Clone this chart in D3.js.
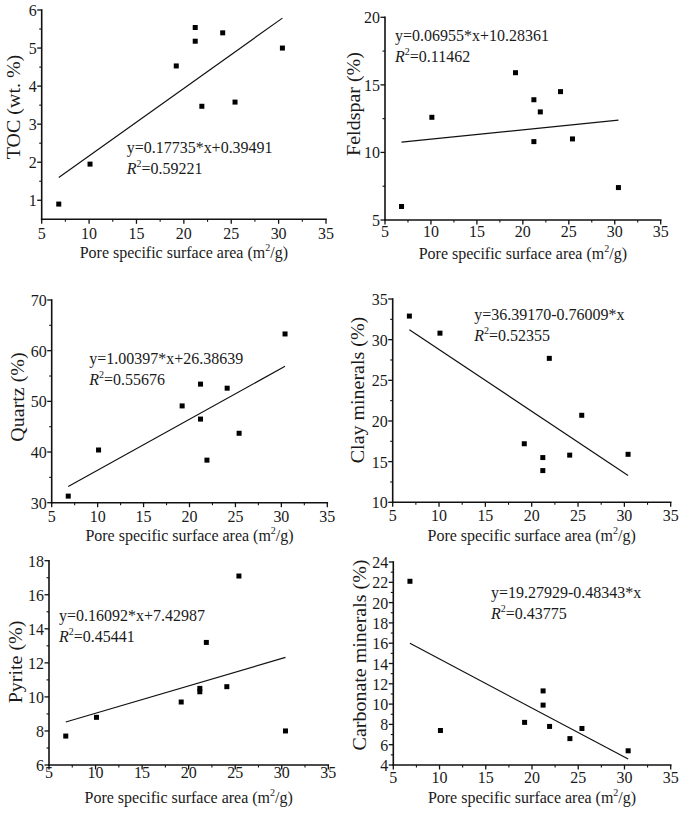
<!DOCTYPE html>
<html><head><meta charset="utf-8">
<script src="https://cdn.jsdelivr.net/npm/d3@7"></script>
<style>
body{margin:0;background:#fff}
svg{display:block}
text{font-family:"Liberation Serif","Times New Roman",serif;fill:#1a1a1a}
</style>
</head><body>
<svg id="chart" width="685" height="814"></svg>
<script>
// ---- data ----
const surfaceArea = [6.8, 10.1, 19.2, 21.2, 21.2, 21.9, 24.1, 25.4, 30.4];
const tocVals = [0.9, 1.95, 4.53, 5.54, 5.18, 3.47, 5.40, 3.58, 5.0];
const feldsparVals = [6.0, 12.6, 15.9, 13.9, 10.8, 13.0, 14.5, 11.0, 7.4];
const quartzVals = [31.3, 40.4, 49.1, 53.4, 46.5, 38.4, 52.6, 43.7, 63.3];
const clayVals = [32.9, 30.8, 17.2, 15.5, 13.9, 27.7, 15.8, 20.7, 15.9];
const pyriteVals = [7.7, 8.8, 9.7, 10.5, 10.3, 13.2, 10.6, 17.1, 8.0];
const carbonateVals = [22.1, 7.4, 8.2, 11.3, 9.9, 7.8, 6.6, 7.6, 5.4];

const slopes = [0.17735, 0.06955, 1.00397, -0.76009, 0.16092, -0.48343];
const intercepts = [0.39491, 10.28361, 26.38639, 36.39170, 7.42987, 19.27929];
const equations = ["y=0.17735*x+0.39491", "y=0.06955*x+10.28361", "y=1.00397*x+26.38639",
                   "y=36.39170-0.76009*x", "y=0.16092*x+7.42987", "y=19.27929-0.48343*x"];
const r2Values = ["0.59221", "0.11462", "0.55676", "0.52355", "0.45441", "0.43775"];
const yTitles = ["TOC (wt. %)", "Feldspar (%)", "Quartz (%)", "Clay minerals (%)", "Pyrite (%)", "Carbonate minerals (%)"];

const xTicks = [5, 10, 15, 20, 25, 30, 35];
const yTicksTOC = [1, 2, 3, 4, 5, 6];
const yTicksFeldspar = [5, 10, 15, 20];
const yTicksQuartz = [30, 40, 50, 60, 70];
const yTicksClay = [10, 15, 20, 25, 30, 35];
const yTicksPyrite = [6, 8, 10, 12, 14, 16, 18];
const yTicksCarbonate = [4, 6, 8, 10, 12, 14, 16, 18, 20, 22, 24];
const xDomain = [5, 35];

// ---- layout ----
const panels = [
  {vals: tocVals, ticks: yTicksTOC, yDomain: [0.5, 6], left: 41.7, right: 326, bottom: 219.3, top: 10,
   xlab: 19.3, xtitle: 39, ytx: 20, yty: 107, eqx: 126.7, eqy: 152.5},
  {vals: feldsparVals, ticks: yTicksFeldspar, yDomain: [5, 20], left: 385, right: 660.7, bottom: 220, top: 17.3,
   xlab: 16.5, xtitle: 39, ytx: 359.5, yty: 104, eqx: 395, eqy: 40.5},
  {vals: quartzVals, ticks: yTicksQuartz, yDomain: [30, 70], left: 51.7, right: 327.3, bottom: 502.7, top: 300,
   xlab: 19, xtitle: 38.6, ytx: 23.5, yty: 397, eqx: 89.3, eqy: 364},
  {vals: clayVals, ticks: yTicksClay, yDomain: [10, 35], left: 392.7, right: 670.7, bottom: 502.3, top: 299,
   xlab: 19, xtitle: 38.6, ytx: 364, yty: 390, eqx: 474.3, eqy: 319.5},
  {vals: pyriteVals, ticks: yTicksPyrite, yDomain: [6, 18], left: 49, right: 328.3, bottom: 765, top: 560.7,
   xlab: 12.5, xtitle: 38, ytx: 22, yty: 662, eqx: 59, eqy: 620.7},
  {vals: carbonateVals, ticks: yTicksCarbonate, yDomain: [4, 24], left: 393.3, right: 670.7, bottom: 765, top: 562,
   xlab: 18, xtitle: 37.7, ytx: 365.5, yty: 655, eqx: 491, eqy: 597.7}
];

const SX = 0.914;        // horizontal text compression seen in the figure
const FS = 17.5;         // text size
const svg = d3.select("#chart");

function txt(g, x, y, anchor, size, rot) {
  return g.append("text")
    .attr("transform", `translate(${x},${y}) scale(${SX},1)` + (rot ? " rotate(-90)" : ""))
    .attr("text-anchor", anchor)
    .style("font-size", size + "px");
}
function mids(arr) { const m = []; for (let i = 0; i < arr.length - 1; i++) m.push((arr[i] + arr[i + 1]) / 2); return m; }

panels.forEach((p, i) => {
  const x = d3.scaleLinear().domain(xDomain).range([p.left, p.right]);
  const y = d3.scaleLinear().domain(p.yDomain).range([p.bottom, p.top]);
  const g = svg.append("g");

  // axis lines
  g.append("line").attr("x1", p.left).attr("x2", p.right).attr("y1", p.bottom).attr("y2", p.bottom)
    .attr("stroke", "#111").attr("stroke-width", 1.6).attr("stroke-linecap", "square");
  g.append("line").attr("x1", p.left).attr("x2", p.left).attr("y1", p.bottom).attr("y2", p.top)
    .attr("stroke", "#111").attr("stroke-width", 1.6).attr("stroke-linecap", "square");

  // x ticks
  xTicks.forEach(t => {
    g.append("line").attr("x1", x(t)).attr("x2", x(t)).attr("y1", p.bottom).attr("y2", p.bottom + 4.5)
      .attr("stroke", "#111").attr("stroke-width", 1.3);
    txt(g, x(t), p.bottom + p.xlab, "middle", FS).text(t);
  });
  mids(xTicks).forEach(t => {
    g.append("line").attr("x1", x(t)).attr("x2", x(t)).attr("y1", p.bottom).attr("y2", p.bottom + 2.5)
      .attr("stroke", "#111").attr("stroke-width", 1.1);
  });
  // y ticks
  p.ticks.forEach(t => {
    g.append("line").attr("x1", p.left - 4.5).attr("x2", p.left).attr("y1", y(t)).attr("y2", y(t))
      .attr("stroke", "#111").attr("stroke-width", 1.3);
    txt(g, p.left - 5, y(t) + 6, "end", FS).text(t);
  });
  mids(p.ticks).forEach(t => {
    g.append("line").attr("x1", p.left - 2.5).attr("x2", p.left).attr("y1", y(t)).attr("y2", y(t))
      .attr("stroke", "#111").attr("stroke-width", 1.1);
  });

  // axis titles
  const xt = txt(g, (p.left + p.right) / 2, p.bottom + p.xtitle, "middle", FS);
  xt.append("tspan").text("Pore specific surface area (m");
  xt.append("tspan").text("2").attr("dy", -7).style("font-size", "11px");
  xt.append("tspan").text("/g)").attr("dy", 7);
  txt(g, p.ytx, p.yty, "middle", 20, true).text(yTitles[i]);

  // regression line
  const xe = d3.extent(surfaceArea);
  const line = d3.line().x(d => x(d)).y(d => y(slopes[i] * d + intercepts[i]));
  g.append("path").attr("d", line(xe)).attr("fill", "none").attr("stroke", "#111").attr("stroke-width", 1.2);

  // points
  g.selectAll("rect.pt").data(surfaceArea.map((v, k) => [v, p.vals[k]])).enter()
    .append("rect").attr("class", "pt")
    .attr("x", d => x(d[0]) - 2.5).attr("y", d => y(d[1]) - 2.5)
    .attr("width", 5).attr("height", 5).attr("fill", "#000");

  // equation text
  txt(g, p.eqx, p.eqy, "start", FS).text(equations[i]);
  const r = txt(g, p.eqx, p.eqy + 21, "start", FS);
  r.append("tspan").text("R").style("font-style", "italic");
  r.append("tspan").text("2").attr("dy", -7).style("font-size", "11px");
  r.append("tspan").text("=" + r2Values[i]).attr("dy", 7);
});
</script>
</body></html>
